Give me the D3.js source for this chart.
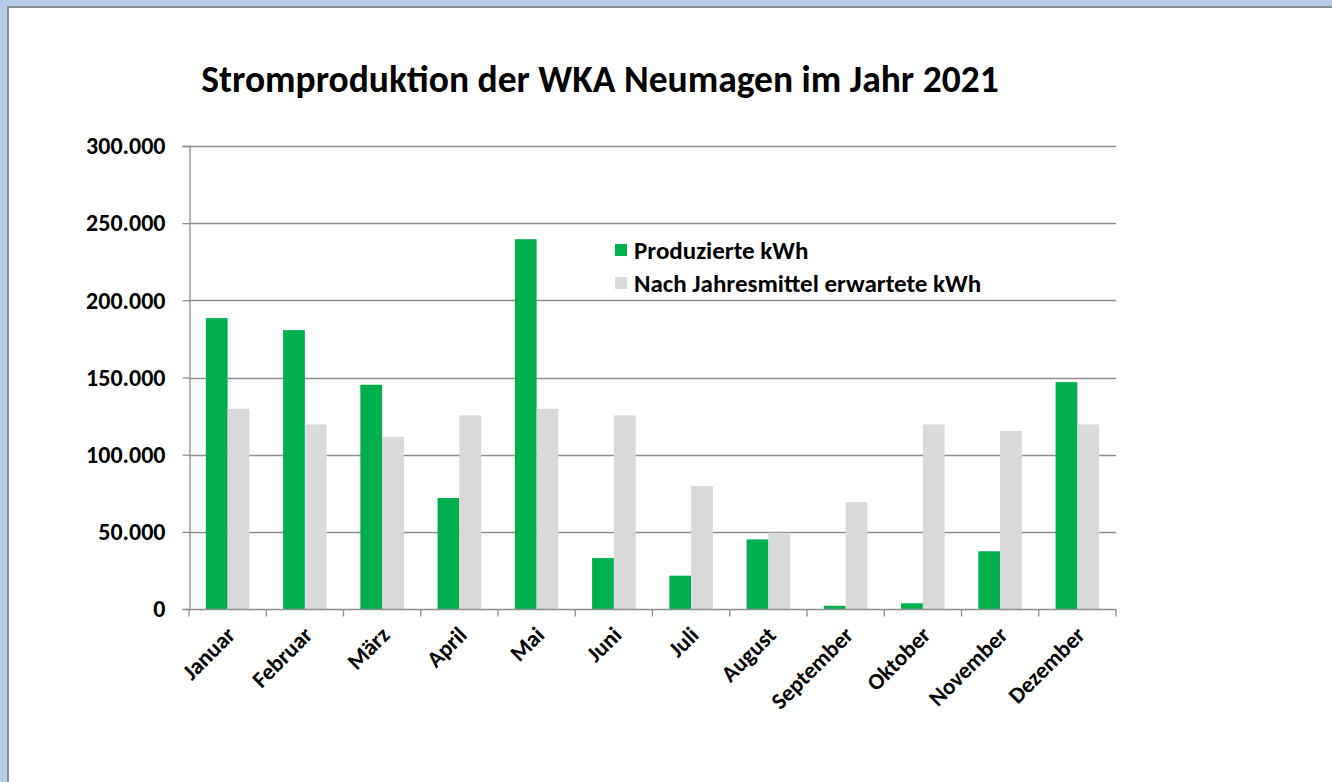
<!DOCTYPE html>
<html>
<head>
<meta charset="utf-8">
<script src="https://cdn.jsdelivr.net/npm/d3@7"></script>
<style>
  html, body { margin: 0; padding: 0; background: #b8cce8; }
  #chart { position: absolute; left: 0; top: 0; }
  text { font-family: Calibri, Carlito, Lato, sans-serif; font-weight: bold; fill: #000; }
</style>
</head>
<body>
<div id="chart"></div>
<script>
// Daten
const months = ["Januar", "Februar", "März", "April", "Mai", "Juni", "Juli", "August", "September", "Oktober", "November", "Dezember"];
const produced = [188500, 180700, 145300, 71900, 239600, 33000, 21600, 45100, 2100, 3700, 37400, 147000];
const expected = [129700, 119600, 111600, 125400, 129700, 125400, 79700, 49400, 69300, 119600, 115300, 119600];
const yTicks = [0, 50000, 100000, 150000, 200000, 250000, 300000];
const seriesNames = ["Produzierte kWh", "Nach Jahresmittel erwartete kWh"];
const colors = ["#00b050", "#d9d9d9"];

const width = 1332;
const height = 782;
const plot = { left: 189, right: 1116, top: 146, bottom: 609 };

const svg = d3.select("#chart").append("svg").attr("width", width).attr("height", height);

// Rahmen
svg.append("rect").attr("x", 7).attr("y", 6).attr("width", width - 7).attr("height", height - 6).attr("fill", "#8c8c8c");
svg.append("rect").attr("x", 9).attr("y", 8).attr("width", width - 9).attr("height", height - 8).attr("fill", "#ffffff");

// Titel
svg.append("text")
    .attr("x", 600)
    .attr("y", 92)
    .attr("text-anchor", "middle")
    .style("font-size", "37.5px")
    .text("Stromproduktion der WKA Neumagen im Jahr 2021");

// Skalen
const xScale = d3.scaleBand()
    .domain(months)
    .range([plot.left, plot.right])
    .paddingInner(0.436)
    .paddingOuter(0.218);

const xSub = d3.scaleBand()
    .domain([0, 1])
    .range([0, xScale.bandwidth()]);

const yScale = d3.scaleLinear()
    .domain([0, 300000])
    .range([plot.bottom, plot.top]);

const fmt = (v) => d3.format(",")(v).replace(/,/g, ".");

// Gitterlinien
svg.append("g")
    .selectAll("line")
    .data(yTicks.filter((d) => d > 0))
    .join("line")
    .attr("x1", plot.left)
    .attr("x2", plot.right)
    .attr("y1", (d) => Math.round(yScale(d)) + 0.5)
    .attr("y2", (d) => Math.round(yScale(d)) + 0.5)
    .attr("stroke", "#8e8e8e")
    .attr("stroke-width", 1.3);

// Balken
const groups = svg.append("g")
    .selectAll("g")
    .data(months)
    .join("g")
    .attr("transform", (d) => `translate(${xScale(d)},0)`);

groups.selectAll("rect")
    .data((d, i) => [produced[i], expected[i]])
    .join("rect")
    .attr("x", (d, j) => xSub(j))
    .attr("width", xSub.bandwidth())
    .attr("y", (d) => yScale(d))
    .attr("height", (d) => plot.bottom - yScale(d))
    .attr("fill", (d, j) => colors[j]);

// y-Achse
const yAxis = d3.axisLeft(yScale)
    .tickValues(yTicks)
    .tickSize(7)
    .tickPadding(17)
    .tickFormat(fmt);

const gy = svg.append("g")
    .attr("transform", `translate(${plot.left + 0.5},0)`)
    .call(yAxis);
gy.select(".domain").attr("stroke", "#8e8e8e").attr("stroke-width", 1.3);
gy.selectAll(".tick line").attr("stroke", "#8e8e8e").attr("stroke-width", 1.3);
gy.selectAll(".tick text")
    .style("font-size", "24px")
    .style("font-family", "Calibri, Carlito, Lato, sans-serif")
    .style("font-weight", "bold")
    .attr("fill", "#000");

// x-Achse
const xAxis = svg.append("g").attr("transform", `translate(0,${plot.bottom + 0.5})`);
xAxis.append("line")
    .attr("x1", plot.left).attr("x2", plot.right)
    .attr("stroke", "#8e8e8e").attr("stroke-width", 1.3);
const boundaries = d3.range(months.length + 1).map((i) => plot.left + i * xScale.step());
xAxis.selectAll(".tickmark")
    .data(boundaries)
    .join("line")
    .attr("class", "tickmark")
    .attr("x1", (d) => d).attr("x2", (d) => d)
    .attr("y1", 0).attr("y2", 7)
    .attr("stroke", "#8e8e8e").attr("stroke-width", 1.3);

xAxis.selectAll(".label")
    .data(months)
    .join("text")
    .attr("class", "label")
    .attr("text-anchor", "end")
    .attr("transform", (d) => `translate(${xScale(d) + xScale.bandwidth() / 2 + 9},${27}) rotate(-45)`)
    .style("font-size", "23px")
    .text((d) => d);

// Legende
const legend = svg.append("g").attr("transform", "translate(615,244)");
const items = legend.selectAll("g")
    .data(seriesNames)
    .join("g")
    .attr("transform", (d, i) => `translate(0,${i * 33})`);
items.append("rect")
    .attr("width", 12).attr("height", 12)
    .attr("fill", (d, i) => colors[i]);
items.append("text")
    .attr("x", 19)
    .attr("y", 6)
    .attr("dy", "0.35em")
    .style("font-size", "25px")
    .text((d) => d);
</script>
</body>
</html>
